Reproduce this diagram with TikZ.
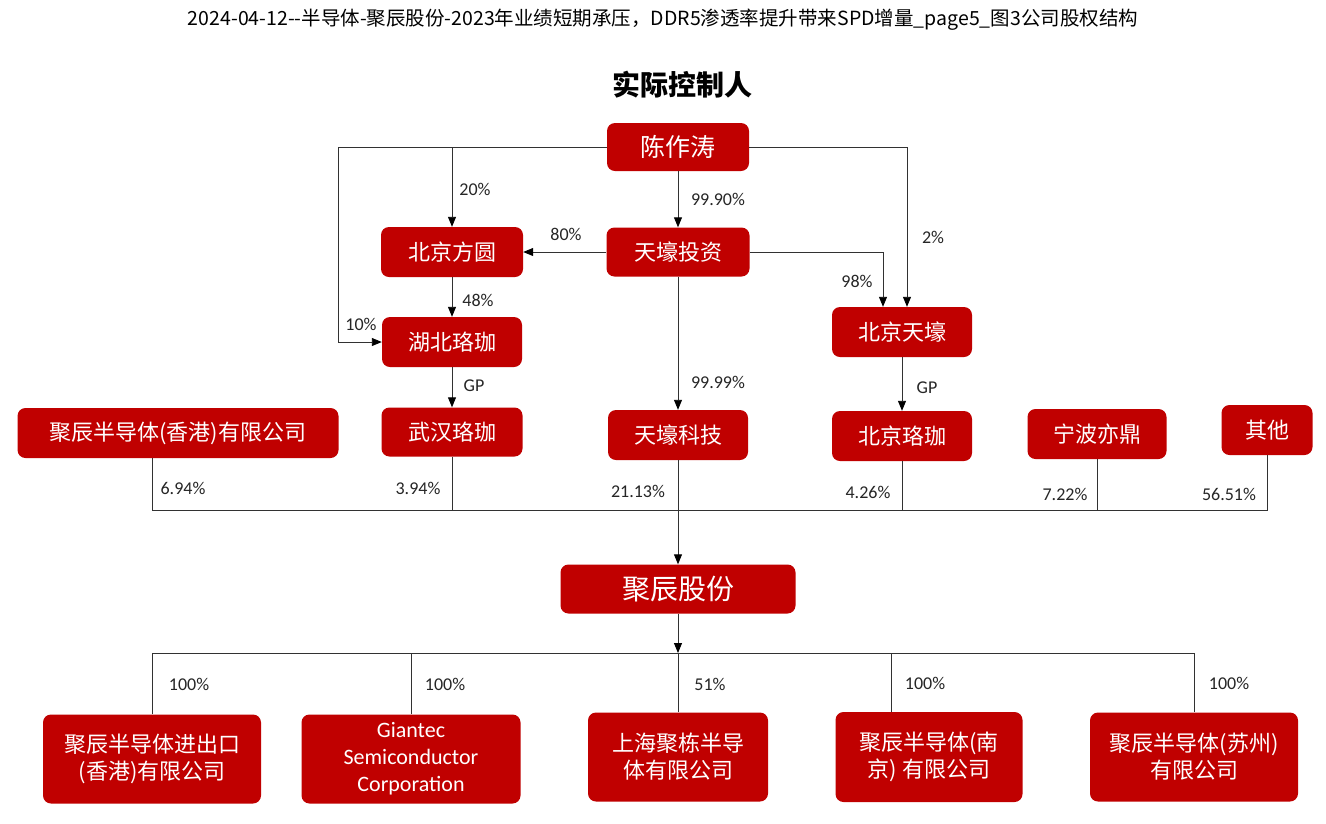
\documentclass[tikz,border=0pt]{standalone}
\usepackage{fontspec}
\setmainfont{Carlito}
\newfontfamily\cjk{Noto Sans CJK SC}
\usetikzlibrary{arrows.meta}
\definecolor{boxred}{RGB}{192,0,0}
\definecolor{linegray}{RGB}{50,50,50}
\begin{document}
\begin{tikzpicture}[x=1pt,y=-1pt,
  box/.style={fill=boxred, rounded corners=8pt, text=white, inner sep=0pt, align=center,
    font=\cjk\fontsize{22}{27}\selectfont},
  bigbox/.style={box, font=\cjk\fontsize{25}{30}\selectfont},
  lbl/.style={font=\fontsize{18}{20}\selectfont, inner sep=0pt, text=black!85},
  ln/.style={draw=linegray, line width=0.9pt},
  arr/.style={ln, -{Triangle[length=10pt,width=8pt,color=black]}}
]
\fill[white] (0,0) rectangle (1326,823);
\useasboundingbox (0,0) rectangle (1326,823);

% titles
\node[font=\cjk\fontsize{19.5}{22}\selectfont, inner sep=0pt] (head) at (663,20) {2024-04-12--半导体-聚辰股份-2023年业绩短期承压，DDR5渗透率提升带来SPD增量\_page5\_图3公司股权结构};
\node[font=\cjk\bfseries\fontsize{28}{30}\selectfont, inner sep=0pt] (ctrl) at (682,85) {实际控制人};

% top nodes
\node[bigbox, minimum width=142, minimum height=48] (czt) at (678,147) {陈作涛};
\node[box, minimum width=142, minimum height=50] (bjfy) at (452,252) {北京方圆};
\node[box, minimum width=143, minimum height=49] (tzts) at (678,252) {天壕投资};
\node[box, minimum width=140, minimum height=50] (hblj) at (452,342) {湖北珞珈};
\node[box, minimum width=140, minimum height=50] (bjth) at (902,332) {北京天壕};

% middle row
\node[box, minimum width=321, minimum height=50] (hk) at (178,433) {聚辰半导体(香港)有限公司};
\node[box, minimum width=141, minimum height=49] (whlj) at (452,432) {武汉珞珈};
\node[box, minimum width=140, minimum height=50] (tzkj) at (678,435) {天壕科技};
\node[box, minimum width=140, minimum height=50] (bjlj) at (902,436) {北京珞珈};
\node[box, minimum width=139, minimum height=50] (nbyd) at (1097,434) {宁波亦鼎};
\node[box, minimum width=91, minimum height=50] (qt) at (1267,430) {其他};

% company
\node[box, font=\cjk\fontsize{28}{32}\selectfont, minimum width=235, minimum height=49] (jcgf) at (678,589) {聚辰股份};

% subsidiaries
\node[box, minimum width=218, minimum height=89] (b1) at (152,759) {聚辰半导体进出口\\(香港)有限公司};
\node[box, font=\fontsize{22}{27}\selectfont, minimum width=219, minimum height=89] (b2) at (411,759) {Giantec\\Semiconductor\\Corporation};
\node[box, minimum width=180, minimum height=89] (b3) at (678,757) {上海聚栋半导\\体有限公司};
\node[box, minimum width=187, minimum height=90] (b4) at (929,757) {聚辰半导体(南\\京) 有限公司};
\node[box, minimum width=208, minimum height=89] (b5) at (1194,757) {聚辰半导体(苏州)\\有限公司};

% connectors top
\draw[arr] (czt.west) -- (338,147) |- (hblj.west);
\draw[arr] (bjfy.north |- czt.west) -- (bjfy.north);
\draw[arr] (czt.south) -- (tzts.north);
\draw[arr] (czt.east) -| ([xshift=5pt]bjth.north);
\draw[arr] (tzts.west) -- (bjfy.east);
\draw[arr] (tzts.east) -| ([xshift=-19pt]bjth.north);
\draw[arr] (bjfy.south) -- (hblj.north);
\draw[arr] (hblj.south) -- (whlj.north);
\draw[arr] (tzts.south) -- (tzkj.north);
\draw[arr] (bjth.south) -- (bjlj.north);

% shareholder bus
\coordinate (bus) at (0,510);
\coordinate (hkin) at ([xshift=-26pt]hk.south);
\draw[ln] (hkin) |- (qt.south |- bus) -- (qt.south);
\draw[ln] (whlj.south) -- (whlj.south |- bus);
\draw[ln] (bjlj.south) -- (bjlj.south |- bus);
\draw[ln] (nbyd.south) -- (nbyd.south |- bus);
\draw[arr] (tzkj.south) -- (jcgf.north);

% subsidiary bus
\coordinate (bus2) at (0,653);
\coordinate (b4in) at ([xshift=-38pt]b4.north);
\draw[arr] (jcgf.south) -- (jcgf.south |- bus2);
\draw[ln] (b1.north) |- (b5.north |- bus2) -- (b5.north);
\draw[ln] (b2.north) -- (b2.north |- bus2);
\draw[ln] (b3.north) -- (b3.north |- bus2);
\draw[ln] (b4in) -- (b4in |- bus2);

% labels
\node[lbl] (l10) at (361,324) {10\%};
\node[lbl] (l20) at (475,189) {20\%};
\node[lbl] (l999) at (718,199) {99.90\%};
\node[lbl] (l2) at (933,237) {2\%};
\node[lbl] (l80) at (566,234) {80\%};
\node[lbl] (l98) at (857,281) {98\%};
\node[lbl] (l48) at (478,300) {48\%};
\node[lbl] (lgp1) at (474,386) {GP};
\node[lbl] (l9999) at (718,382) {99.99\%};
\node[lbl] (lgp2) at (927,388) {GP};
\node[lbl] (l694) at (183,488) {6.94\%};
\node[lbl] (l394) at (418,488) {3.94\%};
\node[lbl] (l2113) at (638,491) {21.13\%};
\node[lbl] (l426) at (868,492) {4.26\%};
\node[lbl] (l722) at (1065,494) {7.22\%};
\node[lbl] (l5651) at (1229,494) {56.51\%};
\node[lbl] (s1) at (189,684) {100\%};
\node[lbl] (s2) at (445,684) {100\%};
\node[lbl] (s3) at (710,684) {51\%};
\node[lbl] (s4) at (925,683) {100\%};
\node[lbl] (s5) at (1229,683) {100\%};
\end{tikzpicture}
\end{document}
